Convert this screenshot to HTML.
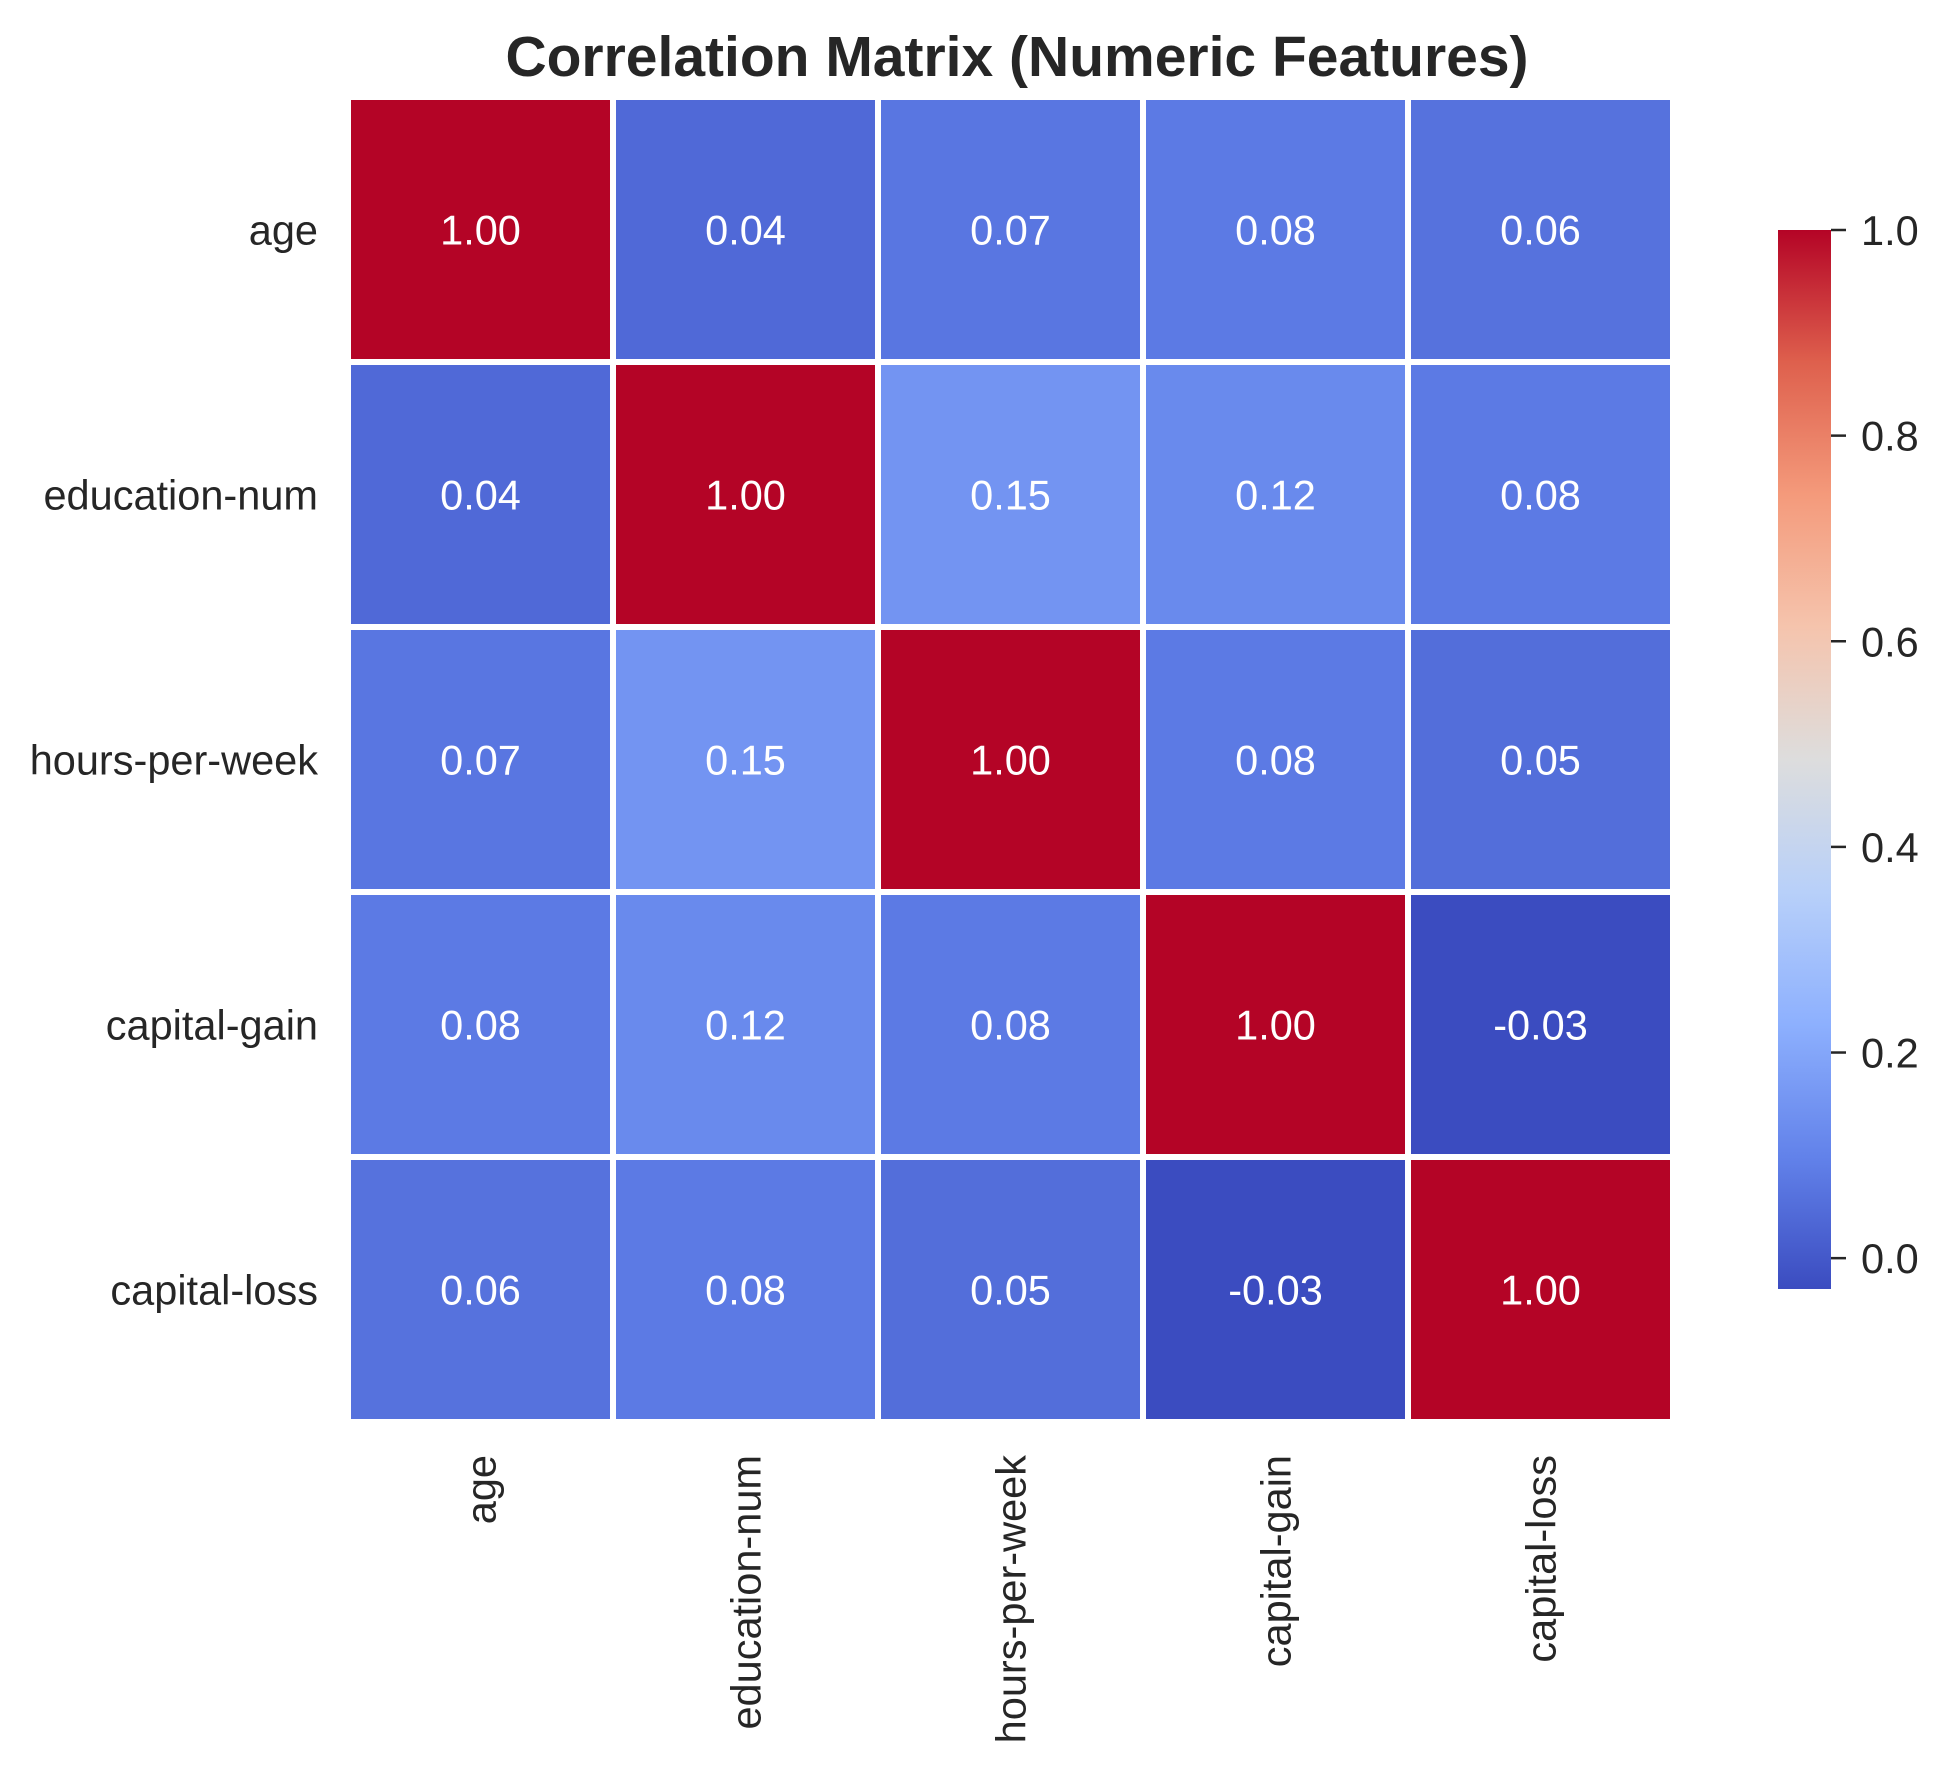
<!DOCTYPE html>
<html><head><meta charset="utf-8"><style>
html,body{margin:0;padding:0;background:#fff;}
svg text{font-family:"Liberation Sans",Arial,sans-serif;}
</style></head><body>
<svg id="chart" width="1947" height="1770" viewBox="0 0 1947 1770" xmlns="http://www.w3.org/2000/svg">
<rect x="0" y="0" width="1947" height="1770" fill="#fff"/>
<text x="1017" y="76" text-anchor="middle" font-size="57" font-weight="bold" fill="#262626">Correlation Matrix (Numeric Features)</text>
<g id="cells"></g><g id="ylabels"></g><g id="xlabels"></g>
<defs><linearGradient id="cbgrad" x1="0" y1="1" x2="0" y2="0"></linearGradient></defs>
<g id="colorbar"></g>
</svg>
<script>
const labels = ["age","education-num","hours-per-week","capital-gain","capital-loss"];
const row0 = [1.00,0.04,0.07,0.08,0.06];
const row1 = [0.04,1.00,0.15,0.12,0.08];
const row2 = [0.07,0.15,1.00,0.08,0.05];
const row3 = [0.08,0.12,0.08,1.00,-0.03];
const row4 = [0.06,0.08,0.05,-0.03,1.00];
const matrix = [row0,row1,row2,row3,row4];
const cbTicks = [0.0,0.2,0.4,0.6,0.8,1.0];
const vmin = -0.03, vmax = 1.0;

const NS="http://www.w3.org/2000/svg";
const hmLeft=348, hmTop=97, cell=265;
const cmap=[[59,76,192],[98,130,234],[141,176,254],[184,208,249],[221,221,221],[245,196,173],[244,154,123],[222,96,77],[180,4,38]];
function color(v){
  let t=(v-vmin)/(vmax-vmin); t=Math.max(0,Math.min(1,t));
  const p=t*8, i=Math.min(7,Math.floor(p)), f=p-i;
  const c=cmap[i].map((a,k)=>Math.round(a+(cmap[i+1][k]-a)*f));
  return `rgb(${c[0]},${c[1]},${c[2]})`;
}
function el(tag,attrs,parent){const e=document.createElementNS(NS,tag);for(const k in attrs)e.setAttribute(k,attrs[k]);parent.appendChild(e);return e;}
const xPos=i=>hmLeft+i*cell, yPos=j=>hmTop+j*cell;
const gc=document.getElementById('cells');
matrix.forEach((row,j)=>row.forEach((v,i)=>{
  const r=el('rect',{x:xPos(i),y:yPos(j),width:cell,height:cell,fill:color(v),stroke:'#fff','stroke-width':6},gc);
  
  
  const t=el('text',{x:xPos(i)+cell/2,y:yPos(j)+cell/2+15,'text-anchor':'middle','font-size':41.5,fill:'#fff'},gc);
  t.textContent=v.toFixed(2);
  
  
}));
const gy=document.getElementById('ylabels'), gx=document.getElementById('xlabels');
labels.forEach((l,i)=>{
  const t=el('text',{x:318,y:yPos(i)+cell/2+15,'text-anchor':'end','font-size':41.5,fill:'#262626'},gy);
  t.textContent=l;
  
  
  const cx=xPos(i)+cell/2+15;
  const u=el('text',{x:cx,y:1455,'text-anchor':'end','font-size':41.5,fill:'#262626',transform:`rotate(-90 ${cx} 1455)`},gx);
  u.textContent=l;
  
  
});
const grad=document.getElementById('cbgrad');
for(let k=0;k<=8;k++){el('stop',{offset:(k/8),'stop-color':`rgb(${cmap[k].join(',')})`},grad);}
const cb=document.getElementById('colorbar');
const cbTop=230, cbBot=1289, cbX=1778, cbW=53;
const cbY=v=>cbBot-(v-vmin)/(vmax-vmin)*(cbBot-cbTop);
const bar=el('rect',{x:cbX,y:cbTop,width:cbW,height:cbBot-cbTop,fill:'url(#cbgrad)'},cb);


cbTicks.forEach(v=>{
  const y=cbY(v);
  const ln=el('line',{x1:cbX+cbW,x2:cbX+cbW+15,y1:y,y2:y,stroke:'#262626','stroke-width':2.5},cb);
  
  
  const t=el('text',{x:1861,y:y+15,'font-size':41.5,fill:'#262626'},cb);
  t.textContent=v.toFixed(1);
  
  
});
</script>
</body></html>
